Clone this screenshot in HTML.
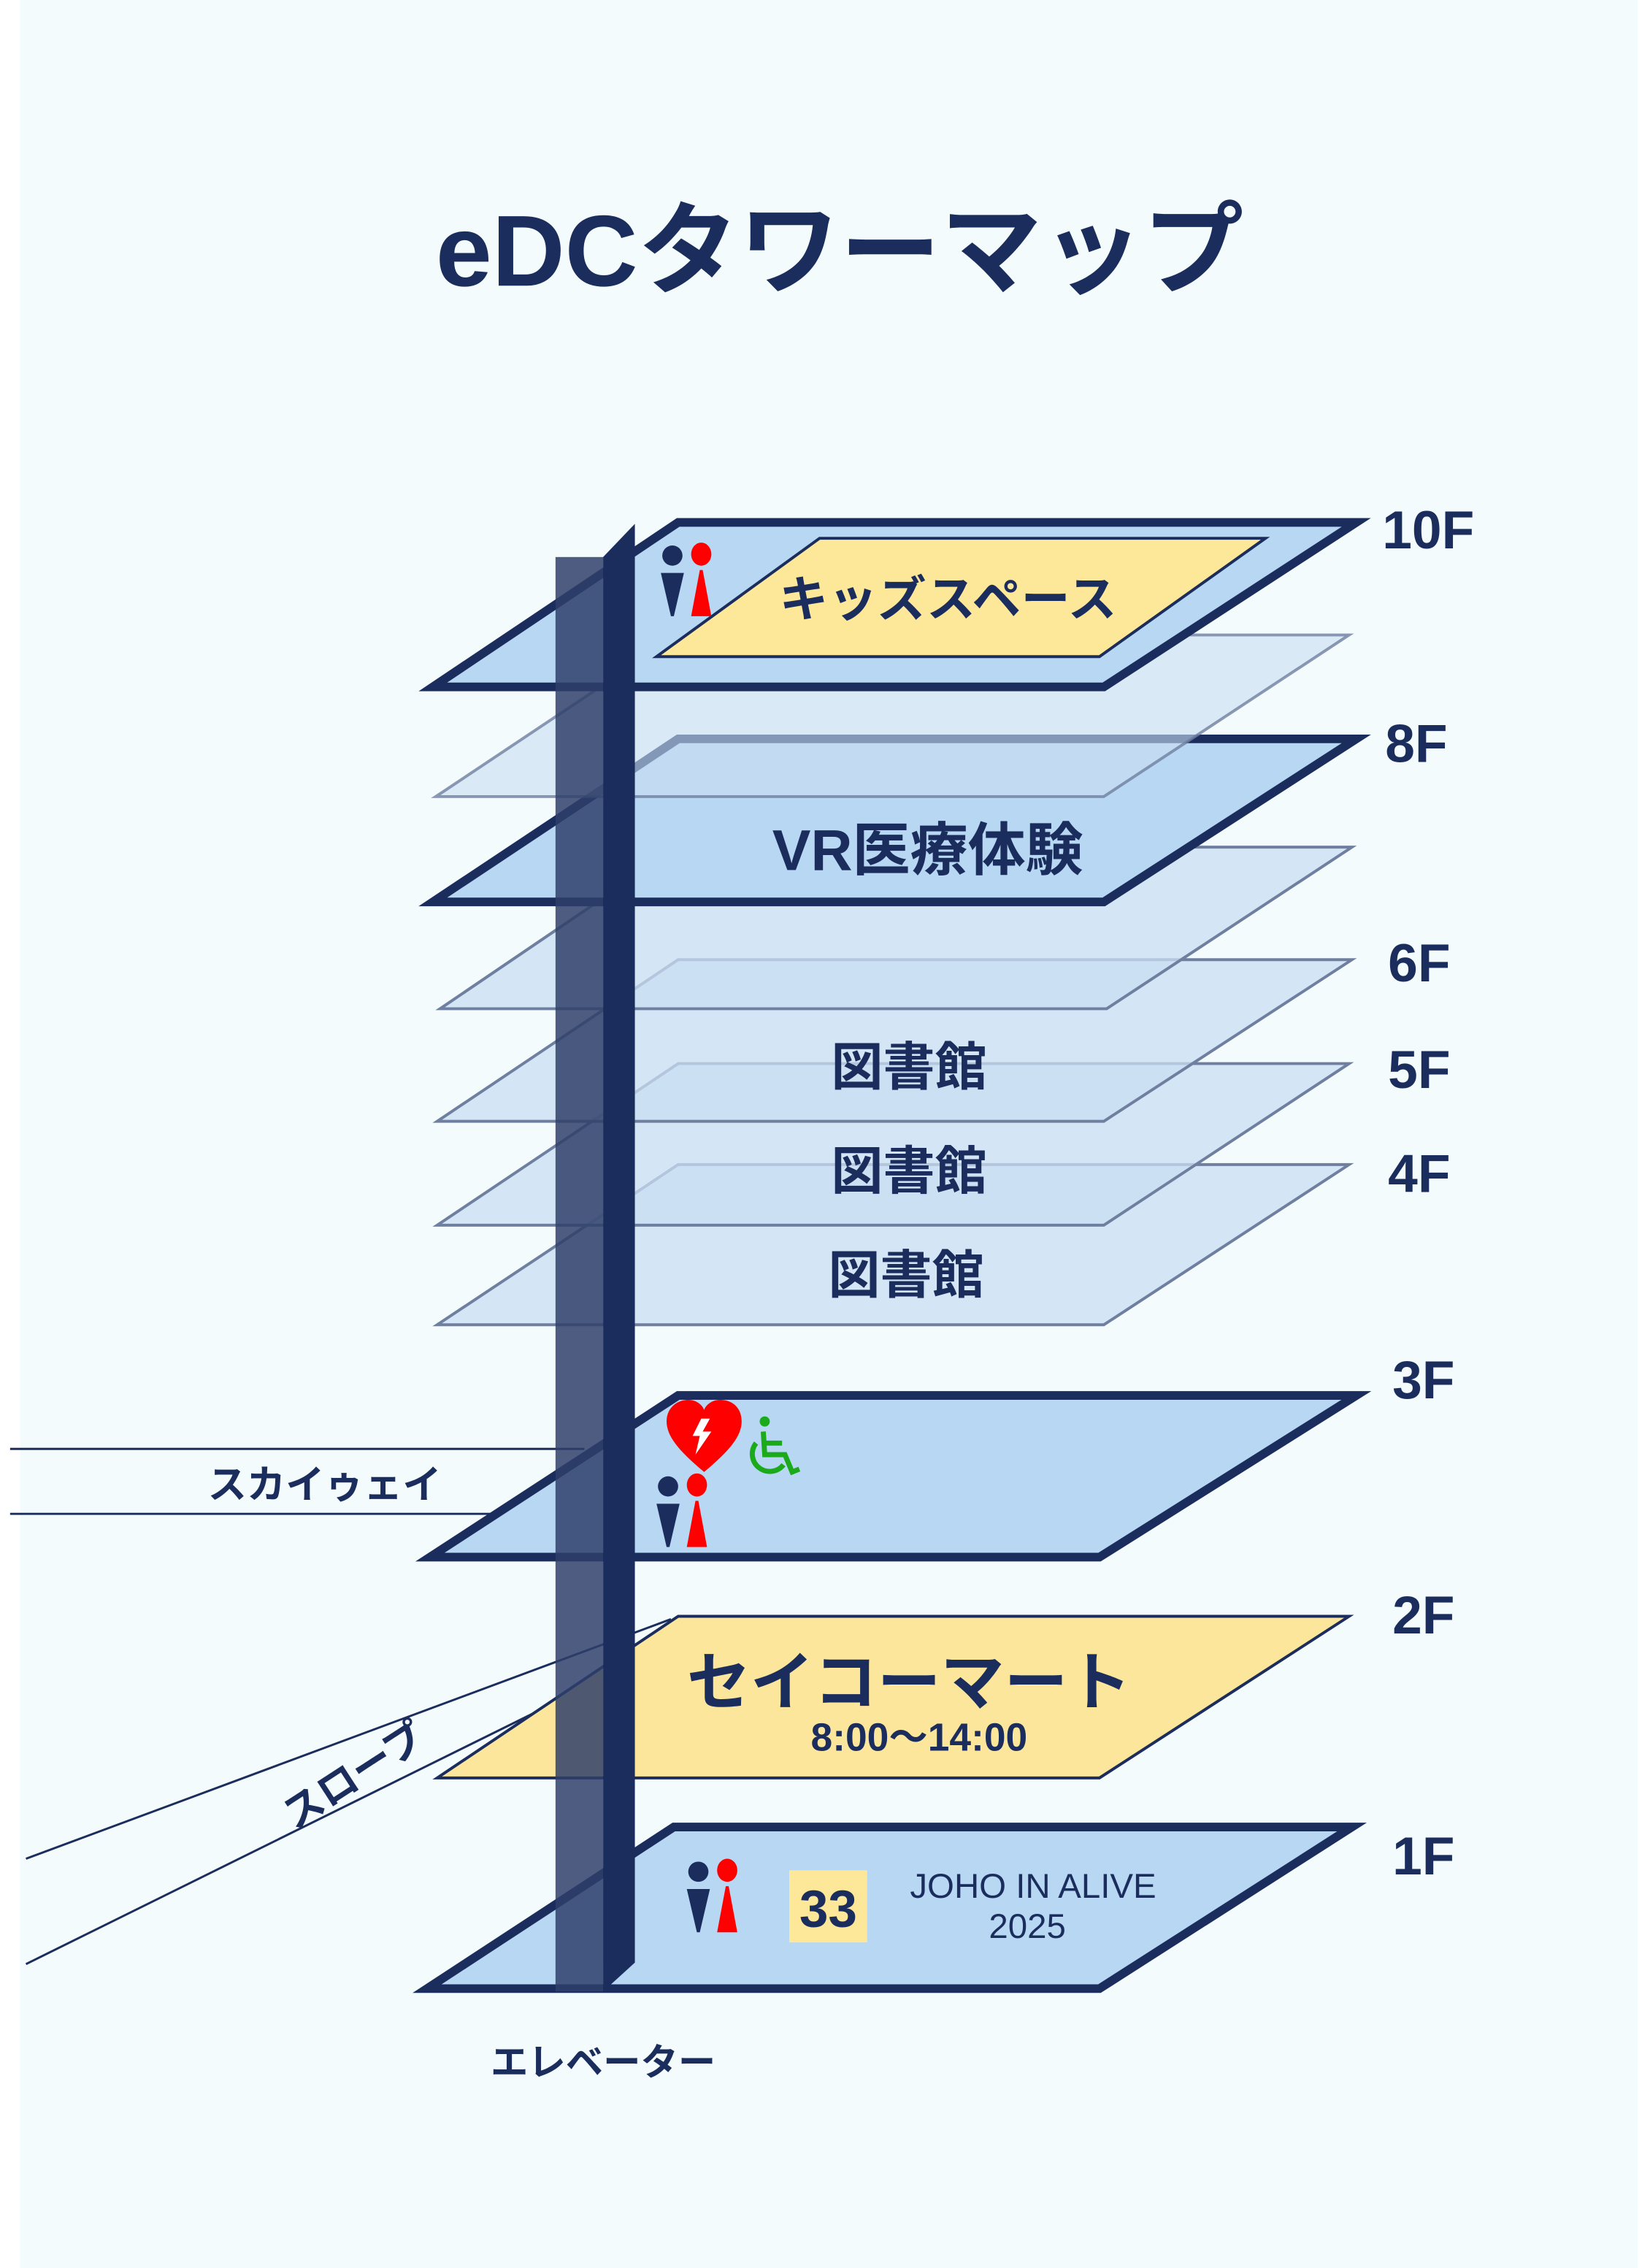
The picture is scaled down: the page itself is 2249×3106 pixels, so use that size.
<!DOCTYPE html>
<html><head><meta charset="utf-8"><style>
html,body{margin:0;padding:0;background:#fff}
svg{display:block}
text{font-family:"Liberation Sans","Noto Sans CJK JP",sans-serif;fill:#1b2d5c}
</style></head><body>
<svg width="2249" height="3106" viewBox="0 0 1138 1571.6" preserveAspectRatio="none" xmlns="http://www.w3.org/2000/svg">
<defs>
<g id="wc">
<circle cx="0" cy="0" r="7" fill="#1b2d5c"/>
<polygon points="-8,12 8,12 1,42 -1,42" fill="#1b2d5c"/>
<ellipse cx="20" cy="-1" rx="7" ry="8" fill="#f00"/>
<polygon points="19,10 21,10 27,42 13,42" fill="#f00"/>
</g>
</defs>
<rect x="0" y="0" width="1138" height="1572" fill="#fff"/>
<rect x="14" y="0" width="1121" height="1572" fill="#f3fbfd"/>
<text x="582" y="198" font-size="70" font-weight="bold" text-anchor="middle">eDCタワーマップ</text>

<!-- skyway / slope lines -->
<line x1="7" y1="1004" x2="405" y2="1004" stroke="#1b2d5c" stroke-width="1.5"/>
<line x1="7" y1="1049" x2="345" y2="1049" stroke="#1b2d5c" stroke-width="1.5"/>
<line x1="18" y1="1288" x2="465" y2="1122" stroke="#1b2d5c" stroke-width="1.5"/>
<line x1="18" y1="1361" x2="445" y2="1150" stroke="#1b2d5c" stroke-width="1.5"/>

<!-- planes bottom to top -->
<polygon points="467,1266 937,1266 762,1378 296,1378" fill="#b7d7f3" stroke="#1b2d5c" stroke-width="6"/>
<polygon points="470,1120 935,1120 762,1232 303,1232" fill="#fbe69c" stroke="#1b2d5c" stroke-width="2"/>
<polygon points="470,967 940,967 762,1079 298,1079" fill="#b7d7f3" stroke="#1b2d5c" stroke-width="6"/>
<polygon points="470,807 935,807 765,918 303,918" fill="#c9def2" fill-opacity="0.75" stroke="#6f7fa0" stroke-width="2"/>
<polygon points="470,737 935,737 765,849 303,849" fill="#c9def2" fill-opacity="0.75" stroke="#6f7fa0" stroke-width="2"/>
<polygon points="470,665 937,665 765,777 303,777" fill="#c9def2" fill-opacity="0.75" stroke="#6f7fa0" stroke-width="2"/>
<polygon points="470,587 937,587 767,699 305,699" fill="#c9def2" fill-opacity="0.75" stroke="#6f7fa0" stroke-width="2"/>
<polygon points="470,512 940,512 765,625 300,625" fill="#b7d7f3" stroke="#1b2d5c" stroke-width="6"/>
<polygon points="470,440 935,440 765,552 302,552" fill="#c9def2" fill-opacity="0.6" stroke="#6f7fa0" stroke-width="2" stroke-opacity="0.8"/>
<polygon points="470,362 940,362 765,476 300,476" fill="#b7d7f3" stroke="#1b2d5c" stroke-width="6"/>
<polygon points="568,373 877,373 762,455 455,455" fill="#fde89a" stroke="#1b2d5c" stroke-width="2"/>

<!-- elevator -->
<rect x="385" y="386" width="33" height="994" fill="#2f3f6a" fill-opacity="0.85"/>
<polygon points="418,386 440,363 440,1360 418,1380" fill="#1b2d5c"/>

<!-- plate texts -->
<text x="657" y="427" font-size="34" font-weight="bold" text-anchor="middle">キッズスペース</text>
<text x="643" y="603" font-size="40" font-weight="bold" text-anchor="middle">VR医療体験</text>
<text x="630" y="752" font-size="36" font-weight="bold" text-anchor="middle">図書館</text>
<text x="630" y="824" font-size="36" font-weight="bold" text-anchor="middle">図書館</text>
<text x="628" y="896" font-size="36" font-weight="bold" text-anchor="middle">図書館</text>
<text x="630" y="1181" font-size="44" font-weight="bold" text-anchor="middle">セイコーマート</text>
<text x="637" y="1213" font-size="27" font-weight="bold" text-anchor="middle">8:00〜14:00</text>
<rect x="547" y="1296" width="54" height="50" fill="#fde89a"/>
<text x="574" y="1335" font-size="36" font-weight="bold" text-anchor="middle">33</text>
<text x="716" y="1315" font-size="24" text-anchor="middle">JOHO IN ALIVE</text>
<text x="712" y="1343" font-size="24" text-anchor="middle">2025</text>

<!-- icons -->
<use href="#wc" x="466" y="385"/>
<use href="#wc" x="463" y="1030"/>
<use href="#wc" x="484" y="1297"/>
<path d="M488,1020 C470,1005 462,995 462,985 C462,975 470,970 477,970 C483,970 487,974 488,977 C489,974 493,970 499,970 C507,970 514,975 514,985 C514,995 506,1005 488,1020 Z" fill="#f00"/>
<polygon points="486,983 492,983 487,992 493,992 482,1008 485,995 480,995" fill="#fff"/>
<g stroke="#1aaa1a" stroke-width="3.5" fill="none">
<circle cx="530" cy="985" r="3.5" fill="#1aaa1a" stroke="none"/>
<path d="M529,992 L530,1008 L544,1008 L549,1020 L554,1018"/>
<path d="M524,1000 A11,11 0 1 0 543,1015"/>
<line x1="530" y1="1000" x2="542" y2="1000"/>
</g>

<!-- floor labels -->
<g font-size="37" font-weight="bold">
<text x="958" y="380">10F</text>
<text x="960" y="528">8F</text>
<text x="962" y="680">6F</text>
<text x="962" y="754">5F</text>
<text x="962" y="826">4F</text>
<text x="965" y="969">3F</text>
<text x="965" y="1132">2F</text>
<text x="965" y="1299">1F</text>
</g>
<text x="225" y="1038" font-size="27" font-weight="bold" text-anchor="middle">スカイゥェイ</text>
<text x="245" y="1240" font-size="28" font-weight="bold" text-anchor="middle" transform="rotate(-33 245 1230)">スロープ</text>
<text x="418" y="1438" font-size="26" font-weight="bold" text-anchor="middle">エレベーター</text>
</svg>
</body></html>
